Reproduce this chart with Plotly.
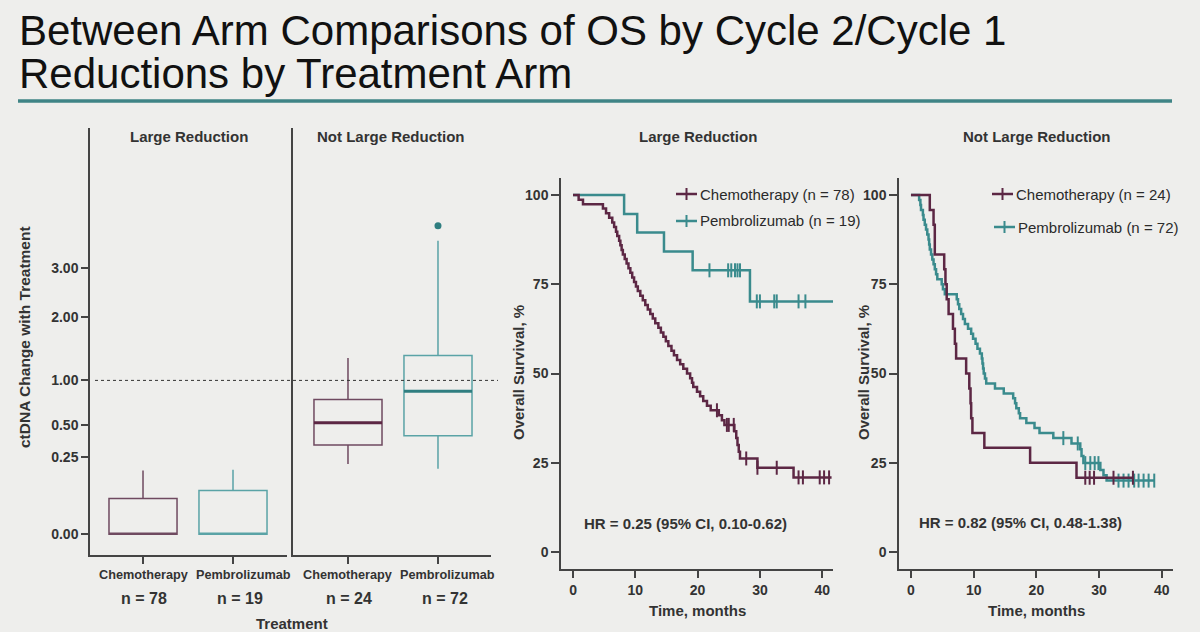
import numpy as np
import plotly.graph_objects as go

W, H = 1200, 632
def px(x): return x / W
def py(y): return 1 - y / H

FONT = "Liberation Sans, Arial, Helvetica, sans-serif"
BG = "#eeeeec"
AX = "#444444"
TXT = "#333333"
CHEMO = "#5c2744"
PEMBRO = "#3a8b8d"
CHEMO_BOX = "#6f4a60"
PEMBRO_BOX = "#5aa3a6"

# ---------------- Box plot data (ctDNA change, original scale) ----------------
groups = ["Chemotherapy", "Pembrolizumab"]
lr_n = [78, 19]
nlr_n = [24, 72]
lr_q1 = [0.0, 0.0]
lr_median = [0.0, 0.0]
lr_q3 = [0.054, 0.081]
lr_lower = [0.0, 0.0]
lr_upper = [0.172, 0.176]
nlr_q1 = [0.337, 0.411]
nlr_median = [0.525, 0.863]
nlr_q3 = [0.766, 1.349]
nlr_lower = [0.208, 0.181]
nlr_upper = [1.314, 3.64]
nlr_outlier = [None, 4.02]
ctdna_ticks = [0.0, 0.25, 0.5, 1.0, 2.0, 3.0]
ctdna_ticktext = ["0.00", "0.25", "0.50", "1.00", "2.00", "3.00"]
ref_line = 1.0

# ---------------- KM data: Large reduction ----------------
lr_chemo_t = [0, 0.9, 1.6, 4.8, 5.3, 5.8, 6.3, 6.6, 6.9, 7.1, 7.4, 7.6, 7.8, 8.0, 8.3, 8.6,
              8.9, 9.2, 9.5, 9.8, 10.1, 10.4, 10.8, 11.2, 11.6, 12.0, 12.4, 12.8, 13.2, 13.7,
              14.1, 14.5, 14.9, 15.3, 15.8, 16.2, 16.7, 17.2, 17.7, 18.3, 18.8, 19.1, 19.3,
              19.9, 20.4, 20.9, 21.5, 22.1, 23.4, 23.9, 24.3, 25.9, 26.2, 26.4, 26.6, 26.8,
              29.6, 35.4, 41.5]
lr_chemo_s = [100, 98.7, 97.4, 96.2, 94.9, 93.6, 92.3, 91.0, 89.7, 88.5, 87.2, 85.9, 84.6,
              83.3, 82.1, 80.8, 79.5, 78.2, 76.9, 75.6, 74.4, 73.1, 71.8, 70.5, 69.2, 67.9,
              66.7, 65.4, 64.1, 62.8, 61.5, 60.3, 59.0, 57.7, 56.4, 55.1, 53.8, 52.6, 51.3,
              50.0, 48.7, 47.4, 46.2, 44.9, 43.6, 42.3, 41.0, 39.7, 38.3, 36.9, 35.6, 33.8,
              31.9, 30.0, 28.1, 26.2, 23.6, 20.9, 20.9]
lr_chemo_cens_t = [23.1, 24.7, 25.0, 25.8, 27.8, 29.6, 32.7, 36.2, 36.9, 39.6, 40.3, 41.1]
lr_chemo_cens_s = [39.7, 35.6, 35.6, 35.6, 26.2, 23.6, 23.6, 20.9, 20.9, 20.9, 20.9, 20.9]

lr_pem_t = [0, 8.2, 10.3, 14.6, 19.2, 28.4, 41.8]
lr_pem_s = [100, 94.7, 89.5, 84.2, 78.9, 70.2, 70.2]
lr_pem_cens_t = [21.9, 24.9, 25.4, 26.0, 26.4, 26.8, 29.5, 30.0, 32.3, 32.7, 36.2, 37.3]
lr_pem_cens_s = [78.9] * 6 + [70.2] * 6

# ---------------- KM data: Not large reduction ----------------
nlr_chemo_t = [0, 3.0, 3.6, 3.8, 5.3, 5.5, 5.7, 6.0, 6.7, 7.0, 7.2, 8.8, 9.3, 9.5, 9.6,
               9.8, 11.7, 19.0, 26.4, 35.4]
nlr_chemo_s = [100, 95.8, 91.7, 83.3, 79.2, 75.0, 70.8, 66.7, 62.5, 58.3, 54.2, 50.0, 45.8,
               41.7, 37.5, 33.3, 29.2, 25.0, 20.8, 20.8]
nlr_chemo_cens_t = [27.8, 28.5, 29.2, 32.3, 35.4]
nlr_chemo_cens_s = [20.8] * 5

nlr_pem_t = [0, 1.3, 1.5, 1.6, 1.9, 2.0, 2.2, 2.4, 2.6, 2.8, 2.9, 3.0, 3.2, 3.4, 3.6, 3.8,
             4.0, 4.2, 4.9, 5.1, 5.4, 7.3, 7.5, 7.7, 8.0, 8.3, 8.6, 9.1, 9.6, 9.9, 10.3,
             10.6, 11.0, 11.3, 11.4, 11.5, 11.6, 11.8, 12.0, 13.4, 14.8, 16.3, 16.6, 16.8,
             17.2, 17.4, 18.4, 19.7, 20.5, 22.7, 25.6, 27.0, 27.2, 27.5, 30.2, 30.7, 31.2, 38.8]
nlr_pem_s = [100, 98.6, 97.2, 95.8, 94.4, 93.1, 91.7, 90.3, 88.9, 87.5, 86.1, 84.7, 83.3,
             81.9, 80.6, 79.2, 77.8, 76.4, 75.0, 73.6, 72.2, 70.8, 69.4, 68.1, 66.7, 65.3,
             63.9, 62.5, 61.1, 59.7, 58.3, 56.9, 55.6, 54.2, 52.8, 51.4, 50.0, 48.6, 47.2,
             45.8, 44.4, 43.1, 41.7, 40.3, 38.9, 37.5, 36.1, 34.7, 33.3, 31.9, 30.4, 28.8,
             26.9, 24.9, 23.0, 21.5, 20.0, 20.0]
nlr_pem_cens_t = [24.3, 26.6, 27.8, 28.6, 29.3, 29.9, 33.1, 33.9, 34.7, 35.6, 36.3, 37.1, 37.9, 38.8]
nlr_pem_cens_s = [31.9, 30.4, 24.9, 24.9, 24.9, 24.9, 20.0, 20.0, 20.0, 20.0, 20.0, 20.0, 20.0, 20.0]

legend_lr = ["Chemotherapy (n = 78)", "Pembrolizumab (n = 19)"]
legend_nlr = ["Chemotherapy (n = 24)", "Pembrolizumab (n = 72)"]
hr_lr = "HR = 0.25 (95% CI, 0.10-0.62)"
hr_nlr = "HR = 0.82 (95% CI, 0.48-1.38)"
km_ticks_x = [0, 10, 20, 30, 40]
km_ticks_y = [0, 25, 50, 75, 100]

fig = go.Figure()

# ---------------- Box plots ----------------
tr = np.sqrt
box_w = 0.756
colors_box = [CHEMO_BOX, PEMBRO_BOX]
colors_med = [CHEMO, "#2f7e80"]
for i in range(2):
    fig.add_trace(go.Box(
        x=[i], q1=[tr(lr_q1[i])], median=[tr(lr_median[i])], q3=[tr(lr_q3[i])],
        lowerfence=[tr(lr_lower[i])], upperfence=[tr(lr_upper[i])],
        width=box_w, whiskerwidth=0, boxpoints=False,
        line=dict(color=colors_box[i], width=1.5), fillcolor="rgba(0,0,0,0)",
        xaxis="x", yaxis="y", showlegend=False, hoverinfo="skip"))
    fig.add_trace(go.Box(
        x=[i], q1=[tr(nlr_q1[i])], median=[tr(nlr_median[i])], q3=[tr(nlr_q3[i])],
        lowerfence=[tr(nlr_lower[i])], upperfence=[tr(nlr_upper[i])],
        width=box_w, whiskerwidth=0, boxpoints=False,
        line=dict(color=colors_box[i], width=1.5), fillcolor="rgba(0,0,0,0)",
        xaxis="x2", yaxis="y2", showlegend=False, hoverinfo="skip"))
    fig.add_trace(go.Scatter(
        x=[i - box_w / 2, i + box_w / 2], y=[tr(nlr_median[i])] * 2, mode="lines",
        line=dict(color=colors_med[i], width=3), xaxis="x2", yaxis="y2",
        showlegend=False, hoverinfo="skip"))
    if nlr_outlier[i] is not None:
        fig.add_trace(go.Scatter(
            x=[i], y=[tr(nlr_outlier[i])], mode="markers",
            marker=dict(color=colors_med[i], size=7), xaxis="x2", yaxis="y2",
            showlegend=False, hoverinfo="skip"))

# ---------------- KM curves ----------------
def km(t, s, ct, cs, color, xa, ya):
    fig.add_trace(go.Scatter(x=t, y=s, mode="lines", line=dict(color=color, width=2.5, shape="hv"),
                             xaxis=xa, yaxis=ya, showlegend=False, hoverinfo="skip"))
    fig.add_trace(go.Scatter(x=ct, y=cs, mode="markers",
                             marker=dict(symbol="line-ns", size=10, line=dict(color=color, width=2)),
                             xaxis=xa, yaxis=ya, showlegend=False, hoverinfo="skip"))

km(lr_pem_t, lr_pem_s, lr_pem_cens_t, lr_pem_cens_s, PEMBRO, "x3", "y3")
km(lr_chemo_t, lr_chemo_s, lr_chemo_cens_t, lr_chemo_cens_s, CHEMO, "x3", "y3")
km(nlr_pem_t, nlr_pem_s, nlr_pem_cens_t, nlr_pem_cens_s, PEMBRO, "x4", "y4")
km(nlr_chemo_t, nlr_chemo_s, nlr_chemo_cens_t, nlr_chemo_cens_s, CHEMO, "x4", "y4")

# ---------------- Axes ----------------
tickfont = dict(family=FONT, size=14, color=TXT, weight="bold")
common = dict(showgrid=False, zeroline=False, showline=True, linecolor=AX, linewidth=1.5,
              tickcolor=AX, tickwidth=1.5, fixedrange=True, automargin=False)
box_y_dom = [py(555), py(128)]
box_y_rng = [-0.1345, 2.640]
km_y_dom = [py(569), py(178)]
km_y_rng = [-4.76, 104.76]

fig.update_layout(
    template="none",
    xaxis=dict(domain=[px(90), px(287)], range=[-0.589, 1.6], tickvals=[0, 1],
               showticklabels=False, ticks="outside", ticklen=7, anchor="y", **common),
    yaxis=dict(domain=box_y_dom, range=box_y_rng, tickvals=list(np.sqrt(ctdna_ticks)),
               ticktext=ctdna_ticktext, ticks="outside", ticklen=7, anchor="x",
               tickfont=tickfont, **common),
    xaxis2=dict(domain=[px(293), px(491)], range=[-0.611, 1.589], tickvals=[0, 1],
                showticklabels=False, ticks="outside", ticklen=7, anchor="y2", **common),
    yaxis2=dict(domain=box_y_dom, range=box_y_rng, showticklabels=False, ticks="", anchor="x2", **common),
    xaxis3=dict(domain=[px(561), px(833)], range=[-1.93, 41.73], tickvals=km_ticks_x,
                ticks="outside", ticklen=7, anchor="y3", tickfont=tickfont, **common),
    yaxis3=dict(domain=km_y_dom, range=km_y_rng, tickvals=km_ticks_y, ticks="outside", ticklen=8,
                anchor="x3", tickfont=tickfont, **common),
    xaxis4=dict(domain=[px(899), px(1173)], range=[-1.91, 41.79], tickvals=km_ticks_x,
                ticks="outside", ticklen=7, anchor="y4", tickfont=tickfont, **common),
    yaxis4=dict(domain=km_y_dom, range=km_y_rng, tickvals=km_ticks_y, ticks="outside", ticklen=8,
                anchor="x4", tickfont=tickfont, **common),
)

# ---------------- Annotations ----------------
ann = []
def A(text, x, y, size, bold=False, color=TXT, xanchor="center", yanchor="middle", angle=0,
      xref="paper", yref="paper", xshift=0):
    ann.append(dict(text=text, x=x, y=y, xref=xref, yref=yref, showarrow=False,
                    xanchor=xanchor, yanchor=yanchor, textangle=angle, xshift=xshift,
                    font=dict(family=FONT, size=size, color=color, weight="bold" if bold else "normal")))

A("Between Arm Comparisons of OS by Cycle 2/Cycle 1", px(17), py(30), 42, color="#111111", xanchor="left")
A("Reductions by Treatment Arm", px(17), py(74), 42, color="#111111", xanchor="left")

A("Large Reduction", px(189), py(136), 15, bold=True)
A("Not Large Reduction", px(391), py(136), 15, bold=True)
A("Large Reduction", px(698), py(136), 15, bold=True)
A("Not Large Reduction", px(1037), py(136), 15, bold=True)

label_shift = [0, 10]
n_shift = [1, 7]
for i in range(2):
    for xr, nn in (("x", lr_n), ("x2", nlr_n)):
        A(groups[i], i, py(575), 12.7, bold=True, xref=xr, xshift=label_shift[i])
        A(f"n = {nn[i]}", i, py(598), 16, bold=True, xref=xr, xshift=n_shift[i])
A("Treatment", px(292), py(623), 15, bold=True)
A("ctDNA Change with Treatment", px(24), py(337), 15.5, bold=True, angle=-90)

A("Time, months", px(697), py(610), 15, bold=True)
A("Time, months", px(1036), py(610), 15, bold=True)
A("Overall Survival, %", px(518), py(373), 15, bold=True, angle=-90)
A("Overall Survival, %", px(863), py(373), 15, bold=True, angle=-90)
A(hr_lr, px(685), py(523), 15, bold=True)
A(hr_nlr, px(1020), py(522), 15, bold=True)

# legends
shapes = []
def leg(x0, y, text, color):
    shapes.append(dict(type="line", xref="paper", yref="paper", x0=px(x0), x1=px(x0 + 21),
                       y0=py(y), y1=py(y), line=dict(color=color, width=2.5)))
    shapes.append(dict(type="line", xref="paper", yref="paper", x0=px(x0 + 10.5), x1=px(x0 + 10.5),
                       y0=py(y - 6), y1=py(y + 6), line=dict(color=color, width=2)))
    A(text, px(x0 + 22), py(y), 15, color="#2a2a2a", xanchor="left")

leg(676, 194, legend_lr[0], CHEMO)
leg(676, 221, legend_lr[1], PEMBRO)
leg(992, 194, legend_nlr[0], CHEMO)
leg(994, 227, legend_nlr[1], PEMBRO)

# reference dotted line at 1.00
shapes.append(dict(type="line", xref="paper", yref="y", x0=px(95), x1=px(498),
                   y0=np.sqrt(ref_line), y1=np.sqrt(ref_line),
                   line=dict(color="#333333", width=1, dash="dot")))
# title rule
shapes.append(dict(type="line", xref="paper", yref="paper", x0=px(18), x1=px(1172),
                   y0=py(101), y1=py(101), line=dict(color="#3f8486", width=3.5)))

fig.update_layout(
    annotations=ann, shapes=shapes,
    width=W, height=H, autosize=False,
    margin=dict(l=0, r=0, t=0, b=0, pad=0, autoexpand=False),
    paper_bgcolor=BG, plot_bgcolor=BG, showlegend=False,
    font=dict(family=FONT, color=TXT),
)

fig.write_html("out.html", config={"displayModeBar": False})
